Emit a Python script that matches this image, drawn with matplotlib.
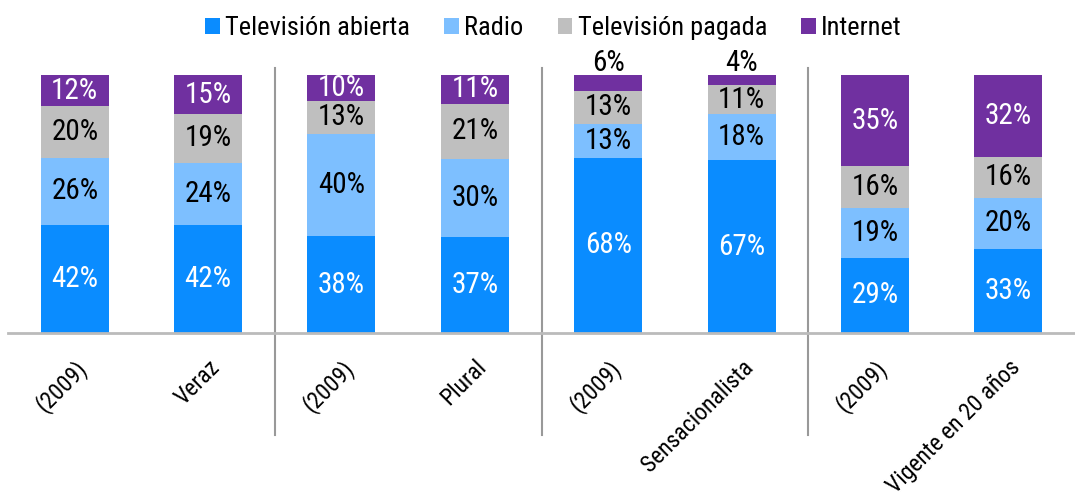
import numpy as np
import matplotlib.pyplot as plt
from matplotlib import font_manager

# pick a narrow face if one is installed
installed = {f.name for f in font_manager.fontManager.ttflist}
narrow = [f.name for f in font_manager.fontManager.ttflist
          if f.stretch in ('condensed', 'semi-condensed', 'extra-condensed', 375, 300)]
prefs = ['Liberation Sans Narrow', 'DejaVu Sans Condensed', 'Roboto Condensed',
         'Open Sans Condensed'] + narrow
main_font = next((p for p in prefs if p in installed), 'DejaVu Sans')
plt.rcParams['font.family'] = [main_font, 'DejaVu Sans']
plt.rcParams['font.stretch'] = 'condensed'

categories = ['(2009)', 'Veraz', '(2009)', 'Plural', '(2009)', 'Sensacionalista',
              '(2009)', 'Vigente en 20 años']
series = ['Televisión abierta', 'Radio', 'Televisión pagada', 'Internet']
tv_abierta = [42, 42, 38, 37, 68, 67, 29, 33]
radio = [26, 24, 40, 30, 13, 18, 19, 20]
tv_pagada = [20, 19, 13, 21, 13, 11, 16, 16]
internet = [12, 15, 10, 11, 6, 4, 35, 32]

colors = ['#0A8CFF', '#7DBFFF', '#BFBFBF', '#7030A0']
text_colors = ['white', 'black', 'black', 'white']

data = np.array([tv_abierta, radio, tv_pagada, internet], dtype=float)
totals = data.sum(axis=0)
shares = data / totals * 100  # bars are drawn as 100% stacks

fig = plt.figure(figsize=(10.75, 5.01), dpi=100)
ax = fig.add_axes([0.0075, 0.335, 0.9925, 0.515])

x = np.arange(len(categories))
bottom = np.zeros(len(categories))
for vals, shr, col, tcol, name in zip(data, shares, colors, text_colors, series):
    ax.bar(x, shr, 0.51, bottom=bottom, color=col, label=name, clip_on=False)
    for xi, b, v, s in zip(x, bottom, vals, shr):
        if v >= 8:
            ax.text(xi, b + s / 2, f'{v:.0f}%', ha='center', va='center',
                    color=tcol, fontsize=21)
        else:
            ax.text(xi, b + s - 0.8, f'{v:.0f}%', ha='center', va='bottom',
                    color='black', fontsize=21)
    bottom += shr

ax.set_xlim(-0.5, len(categories) - 0.5)
ax.set_ylim(0, 100)
ax.set_yticks([])
ax.set_xticks(x)
ax.set_xticklabels(categories, rotation=45, ha='right', rotation_mode='anchor', fontsize=17)
ax.tick_params(axis='x', length=0, pad=16)
for s in ['top', 'right', 'left']:
    ax.spines[s].set_visible(False)
ax.spines['bottom'].set_color('#BBBBBB')
ax.spines['bottom'].set_linewidth(2)

# group separators
for sep in [1.5, 3.5, 5.5]:
    ax.plot([sep, sep], [102.7, -39.5], color='#999999', lw=1.5, clip_on=False)

fig.legend(loc='upper center', bbox_to_anchor=(0.515, 1.015), ncol=4, frameon=False,
           fontsize=19, handlelength=0.55, handleheight=0.55, handletextpad=0.2,
           columnspacing=1.3)

fig.savefig('out.png', dpi=100)
